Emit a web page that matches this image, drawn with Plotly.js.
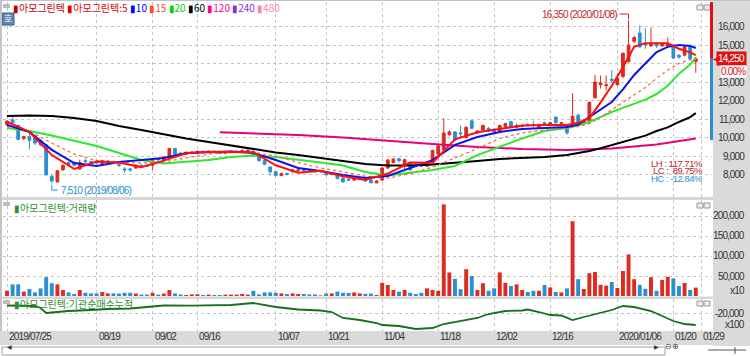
<!DOCTYPE html>
<html><head><meta charset="utf-8">
<script src="https://cdn.plot.ly/plotly-3.0.1.min.js"></script>
<style>html,body{margin:0;padding:0;background:#fff}#chart{width:750px;height:356px}</style>
</head><body><div id="chart"></div>
<script>
// ---------- data ----------
const tickIdx  = [0,16,26,34,48,57,67,77,87,97,109,119,124];
const tickText = ['2019/07/25','08/19','09/02','09/16','10/07','10/21','11/04','11/18','12/02','12/16','2020/01/06','01/20','01/29'];

const openP  = [10700,10950,10650,9950,10050,10030,9850,9600,7900,7600,8250,8650,8650,8300,8750,8700,8700,8600,8650,8700,8550,8300,8300,8350,8500,8500,8500,8850,8800,8950,9400,9150,9100,9150,9150,9250,9200,9250,9200,9150,9200,9200,9200,9250,9250,9000,8750,8400,8150,7950,8050,8150,8200,8250,8250,8200,8150,8100,8000,7980,7800,7750,7700,7750,7750,7700,7550,7700,8350,8650,8850,8550,8650,8500,8550,8450,8650,9100,9350,10150,10300,10250,10000,10900,10250,10400,10500,10450,10300,10600,10850,10550,10600,10700,10700,10550,10800,10650,11100,10750,10650,10700,11200,10800,10850,12150,12850,12800,13150,12850,13300,14100,15200,15650,15100,14950,15100,14950,14950,15000,14450,14450,14900,14100];
const highP  = [10950,11100,10700,10100,10300,10100,9900,9650,8000,8250,8550,8700,8700,8800,8850,8750,8750,8800,8780,8750,8650,8400,8350,8550,8550,8550,8800,8900,9000,9450,9450,9200,9250,9250,9300,9300,9300,9300,9250,9250,9300,9300,9350,9350,9300,9050,8800,8450,8200,8100,8100,8300,8300,8300,8300,8250,8250,8150,8100,8000,7850,7800,7850,7850,7800,7750,7700,8400,8850,8900,8900,8850,8700,8550,8600,8700,9350,9600,11050,10400,10350,10650,10600,10950,10400,10700,10550,10500,10700,10800,10900,10750,10700,10800,10900,10750,10850,10850,11150,10850,10700,12400,11300,11000,11950,13380,13350,13350,13650,13450,14600,16350,15500,16050,15900,15950,15150,15150,15400,15050,14500,14950,15050,14350];
const lowP   = [10620,10750,9850,9850,9350,9600,9550,7950,7510,7550,8200,8500,8450,8250,8600,8550,8580,8550,8600,8600,8400,8100,8150,8300,8400,8400,8250,8750,8750,8900,9050,9000,9050,9100,9100,9150,9150,9150,9100,9100,9150,9150,9150,9200,8950,8700,8500,7950,7900,7900,7950,8100,8150,8150,8150,8100,8100,7950,7950,7750,7560,7650,7650,7700,7600,7540,7530,7650,8300,8600,8650,8250,8200,8400,8400,8400,8600,9050,9300,10100,9800,10000,9950,10450,10200,10350,10300,10250,10250,10550,10500,10500,10550,10600,10550,10500,10650,10600,10750,10700,10150,10650,10800,10700,10800,12100,12650,12550,12950,12800,13200,14050,15100,14850,14800,14900,14850,14900,14900,14250,14250,14400,14200,13500];
const closeP = [10880,10800,9900,10050,9850,9700,9600,7980,7650,8200,8500,8550,8500,8650,8700,8600,8620,8750,8720,8650,8500,8250,8250,8500,8450,8450,8750,8800,8950,9400,9100,9100,9200,9200,9250,9200,9250,9200,9150,9200,9250,9250,9300,9300,9000,8750,8550,8150,7950,8050,8000,8250,8250,8200,8200,8150,8200,7980,8050,7780,7600,7700,7800,7800,7650,7550,7650,8350,8780,8830,8750,8800,8250,8450,8450,8650,9300,9550,10250,10300,9870,10200,10550,10500,10350,10650,10350,10300,10650,10750,10550,10650,10650,10650,10650,10700,10700,10800,10800,10800,10250,11150,10850,10900,11900,13000,12950,12850,13100,13200,14550,15000,15400,14900,15000,15050,14950,15050,15050,14300,14350,14900,14250,14250];
const volume = [13000,29000,29000,11000,17500,9000,19000,47000,32000,29000,15000,9000,5000,15000,8000,6500,6500,10000,6500,6500,6000,8000,8000,6000,3500,3500,8000,3500,6000,15000,6500,4000,2500,4000,4500,2500,3500,2500,2500,3500,3500,3500,5000,3500,13000,4000,9000,9000,8000,6500,5000,6500,5000,5000,4000,4000,1500,6500,6500,11000,8000,7500,9000,6500,5500,6000,2500,33000,27500,15000,11000,15000,8000,5000,8000,19000,15000,13000,229000,59000,43000,17000,67000,50000,15000,32000,13000,19000,59000,33000,25000,29000,15000,10000,13000,13000,27500,21500,10000,9000,19000,187000,42000,17500,57000,60000,28000,26000,35000,20000,62500,104000,42000,28000,18000,47000,13000,40000,48000,44000,25000,32500,15000,21000];

const maIdx = [0,4,8,12,16,20,24,28,32,36,40,44,48,52,56,60,64,68,72,76,80,84,88,92,96,100,102,104,106,108,110,112,114,116,118,120,122,123];
const ma5   = [10850,10300,9050,8300,8700,8650,8400,8750,9150,9230,9220,9200,8500,8100,8200,7900,7710,8050,8650,8640,9900,10280,10460,10650,10680,10680,10800,11050,11900,12800,13800,14900,15100,15100,15100,14800,14600,14450];
const ma10  = [10680,10300,9330,8620,8460,8680,8780,8890,9160,9220,9240,9160,8780,8350,8190,7970,7810,7920,8350,8780,9600,10030,10300,10460,10510,10570,10700,11110,11500,11920,12600,13380,14000,14620,14900,15000,14950,14840];
const ma15  = [10600,10350,9700,9100,8750,8650,8620,8680,8900,9100,9200,9200,9000,8650,8350,8150,7900,7800,8050,8400,8900,9400,9950,10250,10400,10500,10600,10750,11100,11500,11900,12300,12700,13200,13650,14000,14200,14300];
const ma20  = [10510,10350,10110,9810,9540,9160,8780,8600,8680,8780,8950,9030,8950,8780,8650,8490,8140,7950,8080,8240,8460,9050,9500,9950,10350,10510,10650,10840,11100,11380,11600,11810,12050,12350,12800,13450,13950,14300];
const ma60  = [11160,11190,11160,11050,10890,10620,10410,10160,9950,9760,9570,9410,9190,9050,8890,8730,8570,8490,8490,8540,8620,8730,8840,8890,8950,9050,9150,9270,9420,9600,9760,9920,10100,10350,10550,10840,11100,11320];
const ma120Idx = [38,44,52,60,68,76,84,92,100,108,116,123];
const ma120    = [10280,10230,10140,10000,9810,9650,9490,9380,9330,9400,9620,9950];

const instIdx = [0,5,6,7,9,11,15,18,22,26,28,33,40,44,46,48,52,56,58,60,63,66,67,70,73,76,78,81,84,86,89,92,93,95,97,99,101,103,106,108,110,112,115,117,119,121,123];
const instVal = [-12000,-12500,-14500,-19500,-18500,-17500,-16500,-15500,-15000,-13500,-12000,-12200,-11500,-9500,-11500,-13500,-16000,-17000,-18500,-24500,-26500,-29500,-31500,-32500,-35500,-34500,-30500,-27500,-24500,-20500,-17500,-17000,-16000,-18500,-21500,-22000,-26500,-23500,-19500,-16500,-12500,-13500,-17500,-22500,-27500,-30500,-31500];

const priceTicks = [8000,9000,10000,11000,12000,13000,14000,15000,16000];
const volTicks   = [50000,100000,150000,200000];
const instTicks  = [-20000];
const hiDate = '2020/01/08', loDate = '2019/08/06';
const stats = [['LH : 117.71%','#c0282d'],['LC :\u00a0\u00a089.75%','#c0282d'],['HC : -12.84%','#2a8ed2']];

// ---------- helpers ----------
const UP='#dc2b20', DN='#2a8ed2';
const PX = x => (x-3)/709;
const PY = y => (331-y)/329;
const N = closeP.length;
const xs = closeP.map((_,i)=>i);
const fmt = v => v.toLocaleString('en-US');
const NUM = 'Liberation Sans, Arial, sans-serif';
const KR  = 'Noto Sans CJK KR, sans-serif';
const nt = (t,ls) => '<span style="letter-spacing:'+(ls||-0.8)+'px">'+t+'</span>';
const PMIN = 6784, PMAX = 17324;
const ppx = (PMAX-PMIN)/195, ipx = 1/5.6;

const traces = [];
traces.push({type:'candlestick', x:xs, open:openP, high:highP, low:lowP, close:closeP,
  xaxis:'x', yaxis:'y', showlegend:false, whiskerwidth:0,
  increasing:{line:{color:UP,width:1}, fillcolor:UP},
  decreasing:{line:{color:DN,width:1}, fillcolor:DN}});
const maLine = (xx,yy,color,w,dash)=>({type:'scatter',mode:'lines',x:xx,y:yy,xaxis:'x',yaxis:'y',
  line:{color:color,width:w,dash:dash||'solid'},showlegend:false,hoverinfo:'skip'});
traces.push(maLine(ma120Idx,ma120,'#e8007c',2));
traces.push(maLine(maIdx,ma60,'#000000',2));
traces.push(maLine(maIdx,ma20,'#2ee82e',2));
traces.push(maLine(maIdx,ma15,'#ff6a4a',1.3,'dot'));
traces.push(maLine(maIdx,ma10,'#0a14e6',2));
traces.push(maLine(maIdx,ma5,'#ff1010',2));
traces.push({type:'bar', x:xs, y:volume, width:0.7, xaxis:'x', yaxis:'y2', showlegend:false,
  marker:{color:closeP.map((c,i)=>c>=openP[i]?UP:DN), line:{width:0}}});
traces.push({type:'scatter', mode:'lines', x:instIdx, y:instVal, xaxis:'x', yaxis:'y3', showlegend:false,
  line:{color:'#15701a', width:1.8}});

// ---------- decorations ----------
const ann = [];
const shp = [];
// legend
ann.push({xref:'paper',yref:'paper',x:PX(11),y:PY(8),xanchor:'left',yanchor:'middle',showarrow:false,
  font:{family:KR,size:10},
  text:'<span style="color:#c00000">▮아모그린텍</span> <span style="color:#e00000">▮아모그린텍:5</span> <span style="color:#0000ff">▮10</span> <span style="color:#ff4b2b">▮15</span> <span style="color:#00d400">▮20</span> <span style="color:#000000">▮60</span> <span style="color:#ff0090">▮120</span> <span style="color:#8a2be2">▮240</span> <span style="color:#ff80b0">▮480</span>'});
ann.push({xref:'paper',yref:'paper',x:PX(12),y:PY(207),xanchor:'left',yanchor:'middle',showarrow:false,
  font:{family:KR,size:10,color:'#2f8f2f'},text:'▮아모그린텍:거래량'});
ann.push({xref:'paper',yref:'paper',x:PX(12),y:PY(303),xanchor:'left',yanchor:'middle',showarrow:false,
  font:{family:KR,size:10,color:'#2f8f2f'},text:'▮아모그린텍:기관순매수누적'});
// "호" box
shp.push({type:'rect',xref:'paper',yref:'paper',x0:PX(2),x1:PX(14),y0:PY(25),y1:PY(13),fillcolor:'#5f85b3',line:{color:'#3c5f8c',width:1}});
ann.push({xref:'paper',yref:'paper',x:PX(8),y:PY(19),xanchor:'center',yanchor:'middle',showarrow:false,font:{family:KR,size:9,color:'#ffffff'},text:'호'});
// small gray icons
[[3,4],[3,202],[3,300]].forEach(([x,y])=>shp.push({type:'rect',xref:'paper',yref:'paper',x0:PX(x),x1:PX(x+7),y0:PY(y+4),y1:PY(y),fillcolor:'#bdbdbd',line:{width:0}}));
[[5],[203],[301]].forEach(([y])=>{
  shp.push({type:'rect',xref:'paper',yref:'paper',x0:PX(697),x1:PX(703),y0:PY(y+5),y1:PY(y),fillcolor:'#eeeeee',line:{color:'#999',width:1}});
  shp.push({type:'rect',xref:'paper',yref:'paper',x0:PX(704),x1:PX(710),y0:PY(y+5),y1:PY(y),fillcolor:'#eeeeee',line:{color:'#999',width:1}});
});
// right gray axis area and bottom date band
shp.push({type:'rect',xref:'paper',yref:'paper',x0:PX(713),x1:PX(751),y0:PY(346),y1:PY(-1),fillcolor:'#dadada',line:{width:0},layer:'below'});
shp.push({type:'rect',xref:'paper',yref:'paper',x0:PX(-1),x1:PX(751),y0:PY(345),y1:PY(331),fillcolor:'#dadada',line:{width:0},layer:'below'});
// panel separators
shp.push({type:'rect',xref:'paper',yref:'paper',x0:PX(0),x1:PX(713),y0:PY(200),y1:PY(197),fillcolor:'#d6d6d6',line:{width:0}});
shp.push({type:'rect',xref:'paper',yref:'paper',x0:PX(0),x1:PX(713),y0:PY(299),y1:PY(296.5),fillcolor:'#d6d6d6',line:{width:0}});
shp.push({type:'rect',xref:'paper',yref:'paper',x0:PX(-1),x1:PX(2),y0:PY(331),y1:PY(-1),fillcolor:'#c4c4c4',line:{width:0}});
shp.push({type:'rect',xref:'paper',yref:'paper',x0:PX(-1),x1:PX(751),y0:PY(1),y1:PY(-1),fillcolor:'#b8c4d0',line:{width:0}});
// scrollbar row
shp.push({type:'rect',xref:'paper',yref:'paper',x0:PX(2),x1:PX(665),y0:PY(355),y1:PY(347),fillcolor:'#ffffff',line:{color:'#a0a0a0',width:1}});
ann.push({xref:'paper',yref:'paper',x:PX(6),y:PY(351.5),showarrow:false,borderpad:0,font:{size:6,color:'#333'},text:'◀'});
ann.push({xref:'paper',yref:'paper',x:PX(660),y:PY(351.5),showarrow:false,borderpad:0,font:{size:6,color:'#333'},text:'▶'});
ann.push({xref:'paper',yref:'paper',x:PX(680),y:PY(351.5),showarrow:false,borderpad:0,font:{size:8,color:'#333'},text:'⊖⊕'});
shp.push({type:'line',xref:'paper',yref:'paper',x0:PX(708),x1:PX(746),y0:PY(350),y1:PY(350),line:{color:'#555',width:1}});
shp.push({type:'line',xref:'paper',yref:'paper',x0:PX(735),x1:PX(735),y0:PY(354),y1:PY(347),line:{color:'#555',width:1}});

// right-axis labels (the price tag box hides the label next to it)
const last = closeP[N-1];
const prev = closeP[N-2];
const axLab = (yref,y,t,extra)=>Object.assign({xref:'paper',yref:yref,x:PX(747),y:y,xanchor:'right',yanchor:'middle',showarrow:false,
  font:{family:NUM,size:10,color:'#333'},text:nt(t)}, extra||{});
priceTicks.filter(v=>Math.abs(v-last)/ppx>11).forEach(v=>ann.push(axLab('y',v,fmt(v))));
volTicks.forEach(v=>ann.push(axLab('y2',v,fmt(v))));
ann.push(axLab('paper',PY(290),'x10'));
instTicks.forEach(v=>ann.push(axLab('y3',v,fmt(v))));
ann.push(axLab('paper',PY(324),'x100'));
// date labels
tickIdx.forEach((v,k)=>ann.push({xref:'x',yref:'paper',x:v,y:PY(336.5),xanchor:'left',yanchor:'middle',xshift:1,showarrow:false,
  borderpad:0,font:{family:NUM,size:10,color:'#333'},text:nt(tickText[k])}));

// current price marker
shp.push({type:'line',xref:'paper',yref:'y',x0:PX(711.5),x1:PX(711.5),y0:last,y1:PMAX,line:{color:'#e01010',width:3}});
shp.push({type:'line',xref:'paper',yref:'y',x0:PX(711.5),x1:PX(711.5),y0:9860,y1:last,line:{color:'#2a8ed2',width:3}});
ann.push(axLab('y',last,fmt(last),{bgcolor:'#e01010',borderpad:1,font:{family:NUM,size:10,color:'#ffffff'}}));
ann.push({xref:'paper',yref:'y',x:PX(715.5),y:last,xanchor:'center',yanchor:'middle',showarrow:false,font:{size:6,color:'#e01010'},text:'◀'});
ann.push(axLab('y',last,((last-prev)/prev*100).toFixed(2)+'%',{yshift:-12.5,bgcolor:'#ffffff',borderpad:0,font:{family:NUM,size:10,color:'#e01010'}}));

// high / low markers
let hiI=0, loI=0;
highP.forEach((v,i)=>{if(v>highP[hiI])hiI=i;});
lowP.forEach((v,i)=>{if(v<lowP[loI])loI=i;});
const hiV=highP[hiI], loV=lowP[loI];
shp.push({type:'path',xref:'x',yref:'y',path:`M ${hiI-9*ipx},${hiV+6*ppx} L ${hiI},${hiV+6*ppx} L ${hiI},${hiV+1*ppx}`,line:{color:'#c0282d',width:1}});
ann.push({xref:'x',yref:'y',x:hiI,y:hiV,xanchor:'right',yanchor:'middle',xshift:-10,yshift:6,showarrow:false,
  font:{family:NUM,size:10,color:'#c0282d'},text:nt(fmt(hiV)+' ('+hiDate+')')});
shp.push({type:'path',xref:'x',yref:'y',path:`M ${loI},${loV-1*ppx} L ${loI},${loV-6.5*ppx} L ${loI+6*ipx},${loV-6.5*ppx}`,line:{color:'#2a8ed2',width:1}});
ann.push({xref:'x',yref:'y',x:loI,y:loV,xanchor:'left',yanchor:'middle',xshift:7,yshift:-6.5,showarrow:false,
  font:{family:NUM,size:10,color:'#2a8ed2'},text:nt(fmt(loV)+' ('+loDate+')')});
// LH / LC / HC
stats.forEach(([t,c],k)=>ann.push({xref:'paper',yref:'paper',x:PX(704),y:PY(163+8*k),xanchor:'right',yanchor:'middle',showarrow:false,
  borderpad:0,font:{family:NUM,size:9.5,color:c},text:nt(t,-0.5)}));

const grid = {showgrid:true, gridcolor:'#c4c4c4', griddash:'dot', gridwidth:1, zeroline:false, showticklabels:false, ticks:'', showline:false};
const layout = {
  width:750, height:356, margin:{l:3,r:38,t:2,b:25,pad:0},
  paper_bgcolor:'#ffffff', plot_bgcolor:'#ffffff', showlegend:false, hovermode:false,
  xaxis:Object.assign({}, grid, {range:[-0.714,125.9], tickmode:'array', tickvals:tickIdx, anchor:'y3', rangeslider:{visible:false}, fixedrange:true}),
  yaxis:Object.assign({}, grid, {domain:[PY(197),1], range:[PMIN,PMAX], tickmode:'array', tickvals:priceTicks, anchor:'x'}),
  yaxis2:Object.assign({}, grid, {domain:[PY(296),PY(200)], range:[0,240000], tickmode:'array', tickvals:volTicks, anchor:'x'}),
  yaxis3:Object.assign({}, grid, {domain:[0,PY(299)], range:[-37500,-5500], tickmode:'array', tickvals:instTicks, anchor:'x'}),
  annotations:ann, shapes:shp, bargap:0.3
};
Plotly.newPlot('chart', traces, layout, {staticPlot:true, displayModeBar:false});
</script>
</body></html>
